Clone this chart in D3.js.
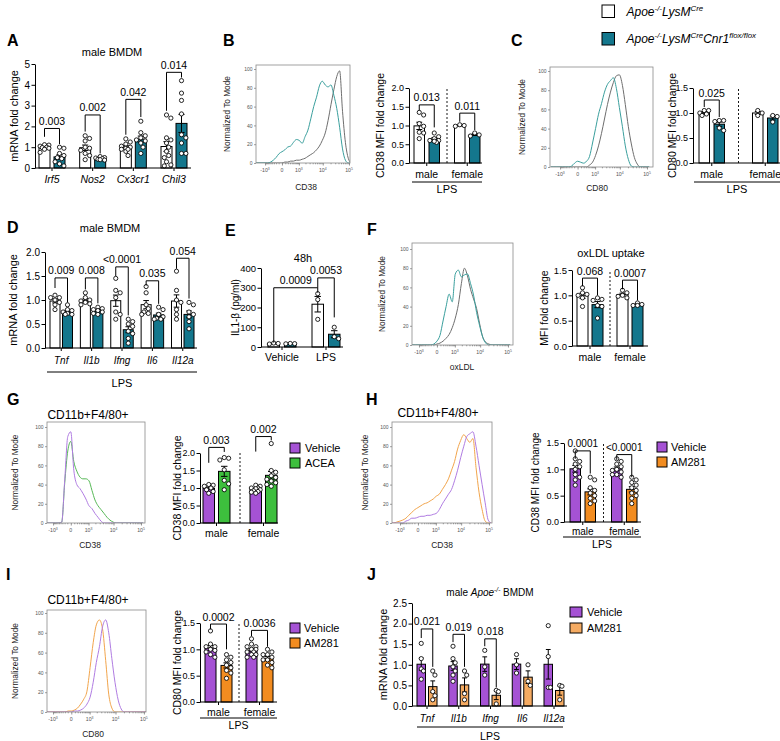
<!DOCTYPE html>
<html>
<head>
<meta charset="utf-8">
<script src="https://cdn.jsdelivr.net/npm/d3@7"></script>
<style>
html,body{margin:0;padding:0;background:#fff;}
svg{display:block;}
svg text{font-family:"Liberation Sans",Arial,Helvetica,sans-serif;}
</style>
</head>
<body>
<svg id="fig" width="780" height="741" viewBox="0 0 780 741"></svg>
<script>
// ================= colours =================
const cWT = "#ffffff", cKO = "#14778d";
const cVeh = "#a552d4", cACEA = "#3dbf3d", cAM = "#f28c20", cAMj = "#f5ab62";
const hTeal = "#3a9f9d", hGrey = "#6e6e6e", hPurple = "#b07ce2", hGreen = "#55b855", hOrange = "#f2a54c";

// ================= shared =================
const sexes = ["male", "female"];
const genesLPS = ["Tnf", "Il1b", "Ifng", "Il6", "Il12a"];

// ================= A =================
const aGenes = ["Irf5", "Nos2", "Cx3cr1", "Chil3"];
const aWT = [[1.12,1.1,1.05,1.0,0.98,0.95,0.9,0.75],[1.55,1.42,1.3,1.0,0.95,0.85,0.6,0.4,0.7],[1.4,1.25,1.15,1.05,1.0,0.95,0.9,0.8,0.6,0.9],[2.55,2.4,1.45,1.35,1.2,1.0,0.8,0.6,0.5,0.3,0.15,0.1]];
const aKO = [[1.0,0.95,0.7,0.6,0.5,0.45,0.3,0.2,0.1],[0.55,0.5,0.48,0.45,0.42,0.4,0.38],[2.25,1.7,1.55,1.45,1.35,1.3,1.2,1.0,0.7],[4.2,3.6,3.25,2.6,1.6,1.45,1.2,0.7,0.7]];
const aP = ["0.003","0.002","0.042","0.014"];
const aBr = [[1.9,1.5,1.15],[2.55,1.75,0.7],[3.3,1.6,2.45],[4.6,2.75,4.35]];
const aTicks = [0,1,2,3,4,5];

// ================= B =================
const bWT = [[1.35,1.28,1.05,0.98,0.82,0.65,0.8],[1.0,1.02,0.98]];
const bKO = [[0.8,0.7,0.65,0.6,0.6,0.55,0.58],[0.8,0.72,0.75]];
const bP = ["0.013","0.011"];
const bBr = [[1.55,1.4,0.95],[1.33,1.1,0.88]];
const ticks2 = [0,0.5,1,1.5,2];
const ticks15 = [0,0.5,1,1.5];

// ================= C =================
const cWTv = [[1.05,1.05,1.0,0.98,0.95],[1.05,1.0,0.95]];
const cKOv = [[0.85,0.85,0.83,0.7,0.65],[0.95,0.93,0.82]];
const cP = ["0.025"];
const cBr = [[1.26,1.12,0.92]];

// ================= D =================
const dWT = [[1.1,1.05,1.05,1.0,0.95,0.9,0.8],[1.15,1.05,1.0,0.98,0.95,0.92,0.9],[1.45,1.2,1.15,1.05,0.75,0.6,0.7],[1.28,1.15,0.9,0.82,0.75,0.72,0.7],[1.6,1.2,1.0,0.95,0.8,0.7,0.6]];
const dKO = [[0.9,0.8,0.78,0.75,0.72,0.7,0.7],[0.85,0.82,0.8,0.78,0.75,0.72,0.7],[0.6,0.55,0.5,0.45,0.35,0.3,0.2,0.1],[0.85,0.8,0.7,0.65,0.62,0.6,0.6],[0.95,0.9,0.75,0.7,0.65,0.55,0.4]];
const dP = ["0.009","0.008","<0.0001","0.035","0.054"];
const dBr = [[1.46,1.25,0.95],[1.46,1.22,0.93],[1.69,1.5,0.68],[1.4,1.3,0.92],[1.87,1.65,1.03]];

// ================= E =================
const eGroups = ["Vehicle","LPS"];
const eWT = [[20,18,15],[270,240,140]];
const eKO = [[18,17,16],[100,52,42]];
const eTicks = [0,100,200,300,400];

// ================= F =================
const fWT = [[1.15,1.05,1.02,1.0,0.95,0.78],[1.1,1.05,1.0,0.98,0.95]];
const fKO = [[0.95,0.92,0.9,0.8,0.78,0.55],[0.85,0.82,0.8,0.8]];
const fP = ["0.068","0.0007"];
const fBr = [[1.34,1.18,1.0],[1.3,1.12,0.9]];

// ================= G =================
const gVeh = [[1.1,1.08,1.05,1.0,0.95,0.9,0.85],[1.08,1.05,1.0,1.0,0.98,0.95,0.92,0.9,0.88,0.85]];
const gACEA = [[1.87,1.85,1.8,1.52,1.22,1.12,0.95],[2.27,1.5,1.45,1.35,1.3,1.25,1.2,1.15,1.1,1.05]];
const gP = ["0.003","0.002"];
const gBr = [[2.16,1.72,2.03],[2.47,2.04,2.36]];

// ================= H =================
const hVeh = [[1.35,1.2,1.15,1.1,1.05,1.0,0.9,0.85,0.8,0.7],[1.2,1.15,1.1,1.05,1.0,0.98,0.95,0.9,0.85,0.9]];
const hAM = [[0.85,0.8,0.65,0.6,0.55,0.5,0.45,0.4,0.35],[0.85,0.8,0.75,0.7,0.65,0.6,0.55,0.5,0.45,0.35]];
const hP = ["0.0001","<0.0001"];
const hBr = [[1.35,1.2,0.92],[1.28,1.18,0.85]];

// ================= I =================
const iVeh = [[1.35,1.1,1.05,1.05,1.0,0.98,0.95,0.9,0.85],[1.2,1.1,1.05,1.05,1.0,1.0,0.95,0.95,0.9,0.9,0.85,0.85]];
const iAM = [[0.9,0.85,0.8,0.75,0.7,0.65,0.6,0.55,0.45],[1.0,0.95,0.9,0.9,0.85,0.8,0.8,0.75,0.7,0.65]];
const iP = ["0.0002","0.0036"];
const iBr = [[1.48,1.38,1.0],[1.36,1.25,1.05]];

// ================= J =================
const jVeh = [[1.52,1.15,0.9,0.85,0.65],[1.45,1.15,1.05,0.95,0.85,0.75,0.6],[1.35,0.95,0.75],[1.25,1.0,0.8],[1.95,1.2,0.45,0.45]];
const jAM = [[0.85,0.75,0.35,0.25,0.15],[0.85,0.75,0.3,0.15],[0.38,0.35,0.05],[1.0,0.6,0.5],[0.5,0.48,0.15]];
const jP = ["0.021","0.019","0.018"];
const jBr = [[1.87,1.65,0.95],[1.74,1.55,0.95],[1.63,1.45,0.45]];
const ticks25 = [0,0.5,1,1.5,2,2.5];

// ================= flow histograms (counts, % of mode, per fluorescence bin) =================
const histBins = [-2500,-1900,-1400,-1000,-750,-500,-335,-195,-85,0,85,195,335,515,750,1050,1430,1920,2550,3350,4400,5700,7400,9600,12500,16000,20700,26700,34400,44200,56900,73100,94000,120000];
const histXTicks = [-1000,0,1000,10000,100000];
const histYTicks = [0,20,40,60,80,100];
const bHistTeal = [0,0,0,0,0,1,3,6,10,12,14,17,18,22,25,24,21,28,35,47,60,70,82,87,83,81,83,72,58,38,15,3,0,0];
const bHistGrey = [0,0,0,0,0,0,0,0,0,0,1,1,2,2,3,3,4,5,7,9,11,14,18,24,32,45,62,78,92,98,55,22,5,0];
const cHistTeal = [0,0,0,0,0,0,0,1,4,6,5,4,6,11,25,40,55,66,78,86,90,93,82,62,42,22,8,1,0,0,0,0,0,0];
const cHistGrey = [0,0,0,0,0,0,0,0,0,0,0,0,0,2,5,12,22,35,50,65,78,88,95,96,85,65,42,24,10,3,0,0,0,0];
const fHistTeal = [0,0,0,0,0,0,0,0,1,4,10,25,40,53,45,74,78,71,73,74,64,52,34,20,8,2,0,0,0,0,0,0,0,0];
const fHistGrey = [0,0,0,0,0,0,0,0,0,1,2,4,7,11,18,28,42,64,80,72,58,48,38,22,8,3,1,0,0,0,0,0,0,0];
const gHistVeh = [0,0,0,0,0,0,1,45,90,95,55,40,36,31,25,18,15,10,6,2,0,0,0,0,0,0,0,0,0,0,0,0,0,0];
const gHistACEA = [0,0,0,0,0,0,1,42,75,85,64,54,48,46,46,44,34,24,18,14,10,6,3,1,0,0,0,0,0,0,0,0,0,0];
const hHistAM = [0,0,1,2,3,5,8,11,14,16,18,20,21,23,25,28,30,35,40,46,55,64,77,86,92,88,84,88,58,32,14,2,0,0];
const hHistVeh = [0,0,0,0,0,2,3,5,5,6,7,7,8,8,9,10,14,20,25,30,35,44,55,68,80,90,93,95,80,60,40,21,3,0];
const iHistAM = [0,0,0,0,0,0,0,0,1,1,2,4,8,13,21,45,70,88,93,84,52,18,4,0,0,0,0,0,0,0,0,0,0,0];
const iHistVeh = [0,0,0,0,0,0,0,0,0,0,1,1,2,4,8,15,30,50,66,86,93,80,54,30,12,3,0,0,0,0,0,0,0,0];

// ================= helpers =================
const svg = d3.select("#fig");

function txt(g, x, y, s, o = {}) {
  const t = g.append("text").attr("x", x).attr("y", y).text(s)
    .attr("font-size", o.fs || 10).attr("text-anchor", o.anchor || "middle").attr("fill", o.fill || "#000");
  if (o.italic) t.attr("font-style", "italic");
  if (o.bold) t.attr("font-weight", "bold");
  if (o.rotate) t.attr("transform", `rotate(-90,${x},${y})`);
  return t;
}
function rich(g, x, y, parts, o = {}) {
  const fs = o.fs || 10;
  const t = g.append("text").attr("x", x).attr("y", y).attr("font-size", fs)
    .attr("text-anchor", o.anchor || "start").attr("fill", o.fill || "#000");
  let prevSup = false;
  parts.forEach(p => {
    const ts = t.append("tspan").text(p.t);
    if (p.it) ts.attr("font-style", "italic");
    if (p.sup) {
      ts.attr("font-size", fs * 0.66);
      if (!prevSup) ts.attr("dy", -fs * 0.42);
    } else if (prevSup) ts.attr("dy", fs * 0.42);
    prevSup = !!p.sup;
  });
  return t;
}
function legend(x, y, items, o) {
  const g = svg.append("g");
  items.forEach((it, i) => {
    const yy = y + i * o.dy;
    g.append("rect").attr("x", x).attr("y", yy).attr("width", o.w || o.sq).attr("height", o.sq)
      .attr("fill", it.color).attr("stroke", "#000").attr("stroke-width", 1);
    const ty = yy + o.sq / 2 + o.fs * 0.36;
    if (it.parts) rich(g, x + (o.w || o.sq) + o.tx, ty, it.parts, { fs: o.fs });
    else txt(g, x + (o.w || o.sq) + o.tx, ty, it.label, { fs: o.fs, anchor: "start" });
  });
}
function letter(x, y, s) { txt(svg, x, y, s, { fs: 16, bold: true, anchor: "start" }); }

function swarm(vals, y, cx, r, half) {
  const d = 2 * r + 0.2;
  const placed = [];
  const out = new Array(vals.length);
  const idx = vals.map((v, i) => i).sort((a, b) => vals[b] - vals[a]);
  const cands = [0];
  for (let k = 1; k <= 8; k++) cands.push(k * d * 0.5, -k * d * 0.5);
  idx.forEach(i => {
    const py = y(vals[i]);
    let best = 0, bestScore = -1;
    for (const c of cands) {
      if (Math.abs(c) > half) continue;
      let minD = Infinity;
      placed.forEach(q => { const dd = Math.hypot(c - q.dx, py - q.py); if (dd < minD) minD = dd; });
      if (minD >= d) { best = c; bestScore = Infinity; break; }
      if (minD > bestScore) { bestScore = minD; best = c; }
    }
    placed.push({ dx: best, py });
    out[i] = { x: cx + best, y: py };
  });
  return out;
}

function barPanel(o) {
  const g = svg.append("g");
  const y = d3.scaleLinear().domain([0, o.max]).range([o.yBase, o.yTop]);
  const n = o.groups.length, bw = 2 * o.barW + o.gap;
  const step = (o.barEnd - o.barStart - bw) / (n - 1);
  const xg = d3.scaleBand().domain(o.groups).range([o.barStart, o.barEnd]).paddingInner(1 - bw / step).paddingOuter(0);
  const xs = d3.scaleBand().domain(o.series.map(s => s.name)).range([0, bw]).paddingInner(o.gap / (o.barW + o.gap));
  const bx = (gi, si) => xg(o.groups[gi]) + xs(o.series[si].name);
  const cx = (gi, si) => bx(gi, si) + xs.bandwidth() / 2;

  if (o.divider) {
    const xm = (xg(o.groups[0]) + bw + xg(o.groups[1])) / 2;
    g.append("line").attr("x1", xm).attr("x2", xm).attr("y1", o.yBase).attr("y2", o.yTop)
      .attr("stroke", "#000").attr("stroke-width", 0.9).attr("stroke-dasharray", "2,2");
  }
  o.series.forEach((s, si) => {
    s.values.forEach((vals, gi) => {
      const m = d3.mean(vals);
      g.append("rect").attr("x", bx(gi, si)).attr("y", y(m)).attr("width", xs.bandwidth())
        .attr("height", y(0) - y(m)).attr("fill", s.fill).attr("stroke", "#000").attr("stroke-width", 1);
    });
  });
  o.series.forEach((s, si) => {
    s.values.forEach((vals, gi) => {
      const m = d3.mean(vals), sem = d3.deviation(vals) / Math.sqrt(vals.length);
      const c = cx(gi, si), cw = xs.bandwidth() * 0.28;
      const p = `M${c},${y(m - sem)}V${y(m + sem)}M${c - cw},${y(m + sem)}H${c + cw}M${c - cw},${y(m - sem)}H${c + cw}`;
      g.append("path").attr("d", p).attr("fill", "none").attr("stroke", "#000").attr("stroke-width", 1);
    });
  });
  const r = o.r || 2.1;
  o.series.forEach((s, si) => {
    s.values.forEach((vals, gi) => {
      const pts = swarm(vals, y, cx(gi, si), r, xs.bandwidth() / 2);
      g.selectAll(null).data(pts).enter().append("circle")
        .attr("cx", d => d.x).attr("cy", d => d.y).attr("r", r)
        .attr("fill", "#fff").attr("stroke", "#000").attr("stroke-width", 0.85);
    });
  });
  const ya = d3.axisLeft(y).tickValues(o.ticks).tickFormat(o.fmt).tickSize(3.5).tickSizeOuter(0).tickPadding(1.5);
  g.append("g").attr("transform", `translate(${o.x0},0)`).call(ya)
    .call(s => { s.select(".domain").attr("stroke-width", 1); s.selectAll("line").attr("stroke-width", 1);
      s.selectAll("text").attr("font-size", o.tickFs || 10); });
  g.append("line").attr("x1", o.x0).attr("x2", o.x1).attr("y1", o.yBase).attr("y2", o.yBase)
    .attr("stroke", "#000").attr("stroke-width", 1);
  const xa = d3.axisBottom(xg).tickSize(3).tickFormat("");
  g.append("g").attr("transform", `translate(0,${o.yBase})`).call(xa)
    .call(s => { s.select(".domain").remove(); s.selectAll("line").attr("stroke-width", 1); });
  o.groups.forEach(gr => {
    txt(g, xg(gr) + bw / 2, o.yBase + o.labelDy, gr, { fs: o.labFs || 10.5, italic: o.italic });
  });
  if (o.under) {
    g.append("line").attr("x1", o.under.x0).attr("x2", o.under.x1)
      .attr("y1", o.yBase + o.under.dy).attr("y2", o.yBase + o.under.dy).attr("stroke", "#000").attr("stroke-width", 1);
    txt(g, (o.under.x0 + o.under.x1) / 2, o.yBase + o.under.tdy, o.under.text, { fs: o.under.fs || 11 });
  }
  (o.brackets || []).forEach(b => {
    const xa1 = cx(b.a[0], b.a[1]), xb1 = cx(b.b[0], b.b[1]);
    g.append("path").attr("d", `M${xa1},${y(b.ya)}V${y(b.y)}H${xb1}V${y(b.yb)}`)
      .attr("fill", "none").attr("stroke", "#000").attr("stroke-width", 1);
    txt(g, (xa1 + xb1) / 2, y(b.y) - 3.5, b.label, { fs: o.pFs || 10.5 });
  });
  const yc = (o.yBase + o.yTop) / 2;
  const ylf = o.ylFs || 10.5;
  txt(g, o.ylx + ylf * 0.36, yc, o.ylabel, { fs: ylf, rotate: true });
}
function pairBrackets(P, B) {
  return P.map((p, i) => ({ a: [i, 0], b: [i, 1], y: B[i][0], ya: B[i][1], yb: B[i][2], label: p }));
}

let clipN = 0;
function histPanel(o) {
  const g = svg.append("g");
  const x = d3.scaleSymlog().constant(300).domain([histBins[0], histBins[histBins.length - 1]]).range([o.sL, o.sR]);
  const y = d3.scaleLinear().domain([0, 100]).range([o.boxB, o.y100]);
  const id = "hclip" + (clipN++);
  svg.append("clipPath").attr("id", id).append("rect")
    .attr("x", o.boxL).attr("y", o.boxT).attr("width", o.boxR - o.boxL).attr("height", o.boxB - o.boxT);
  const line = d3.line().x((d, i) => x(histBins[i])).y(d => y(d)).curve(d3.curveMonotoneX);
  o.curves.forEach(c => {
    g.append("path").attr("d", line(c.vals)).attr("fill", "none").attr("stroke", c.color)
      .attr("stroke-width", 1).attr("clip-path", `url(#${id})`);
  });
  g.append("rect").attr("x", o.boxL).attr("y", o.boxT).attr("width", o.boxR - o.boxL).attr("height", o.boxB - o.boxT)
    .attr("fill", "none").attr("stroke", "#8a8a8a").attr("stroke-width", 0.8);
  const ya = d3.axisLeft(y).tickValues(histYTicks).tickSize(2).tickSizeOuter(0).tickPadding(1.5);
  g.append("g").attr("transform", `translate(${o.boxL},0)`).call(ya)
    .call(s => { s.select(".domain").remove(); s.selectAll("line").attr("stroke", "#777").attr("stroke-width", 0.7);
      s.selectAll("text").attr("font-size", 5).attr("fill", "#555"); });
  const minor = [];
  [100, 1000, 10000].forEach(dec => { for (let k = 2; k <= 9; k++) minor.push(k * dec); });
  [100, 200, 300, 400, 500, 600, 700, 800, 900].forEach(v => minor.push(-v));
  minor.push(100);
  const xm = d3.axisBottom(x).tickValues(minor).tickSize(1.3).tickFormat("");
  g.append("g").attr("transform", `translate(0,${o.boxB})`).call(xm)
    .call(s => { s.select(".domain").remove(); s.selectAll("line").attr("stroke", "#666").attr("stroke-width", 0.6); });
  const xa = d3.axisBottom(x).tickValues(histXTicks).tickSize(2.5).tickFormat("");
  g.append("g").attr("transform", `translate(0,${o.boxB})`).call(xa)
    .call(s => { s.select(".domain").remove(); s.selectAll("line").attr("stroke", "#666").attr("stroke-width", 0.7); });
  histXTicks.forEach(v => {
    const parts = v === 0 ? [{ t: "0" }] : [{ t: (v < 0 ? "-" : "") + "10" }, { t: String(Math.round(Math.log10(Math.abs(v)))), sup: 1 }];
    rich(g, x(v), o.boxB + 9, parts, { fs: 5.2, anchor: "middle", fill: "#555" });
  });
  txt(g, o.xlab[1], o.xlab[2], o.xlab[0], { fs: 8.5, fill: "#222" });
  const yc = (o.boxT + o.boxB) / 2;
  txt(g, o.ylx + 3, yc, "Normalized To Mode", { fs: 8.3, rotate: true, fill: "#222" });
}

// ================= top legend =================
legend(602, 5, [
  { color: cWT, parts: [{ t: "Apoe", it: 1 }, { t: "-/-", it: 1, sup: 1 }, { t: "LysM", it: 1 }, { t: "Cre", it: 1, sup: 1 }] },
  { color: cKO, parts: [{ t: "Apoe", it: 1 }, { t: "-/-", it: 1, sup: 1 }, { t: "LysM", it: 1 }, { t: "Cre", it: 1, sup: 1 }, { t: "Cnr1", it: 1 }, { t: "flox/flox", it: 1, sup: 1 }] }
], { sq: 12.5, dy: 27.5, fs: 12, tx: 12 });

// ================= letters =================
letter(7, 46, "A"); letter(223, 46, "B"); letter(511, 46, "C");
letter(7, 233, "D"); letter(225, 236, "E"); letter(367, 235, "F");
letter(7, 405, "G"); letter(366, 405, "H"); letter(6, 580, "I"); letter(367, 580, "J");

// ================= Panel A =================
txt(svg, 112, 56, "male BMDM", { fs: 11 });
barPanel({
  x0: 35, x1: 191, yBase: 168, yTop: 64, max: 5, ticks: aTicks, fmt: d3.format("d"),
  groups: aGenes, barStart: 39, barEnd: 187, barW: 11, gap: 4,
  series: [{ name: "wt", fill: cWT, values: aWT }, { name: "ko", fill: cKO, values: aKO }],
  labelDy: 15, italic: true, labFs: 10.5, ylabel: "mRNA fold change", ylx: 14, ylFs: 11,
  brackets: pairBrackets(aP, aBr), pFs: 10.5
});

// ================= Panel B =================
histPanel({ boxL: 256, boxR: 350, boxT: 65, boxB: 163, sL: 256.2, sR: 351.1, y100: 69, ylx: 227,
  xlab: ["CD38", 306, 190], curves: [{ vals: bHistGrey, color: hGrey }, { vals: bHistTeal, color: hTeal }] });
barPanel({
  x0: 409, x1: 482, yBase: 163, yTop: 88, max: 2, ticks: ticks2, fmt: d3.format(".1f"),
  groups: sexes, barStart: 414, barEnd: 480, barW: 10.5, gap: 4.5,
  series: [{ name: "wt", fill: cWT, values: bWT }, { name: "ko", fill: cKO, values: bKO }],
  labelDy: 15, labFs: 10.5, tickFs: 9, divider: true, under: { x0: 412, x1: 482, dy: 19, tdy: 30, text: "LPS" },
  ylabel: "CD38 MFI fold change", ylx: 380, ylFs: 10.5, brackets: pairBrackets(bP, bBr)
});

// ================= Panel C =================
histPanel({ boxL: 550, boxR: 653, boxT: 67, boxB: 167, sL: 550.9, sR: 649.2, y100: 71, ylx: 522,
  xlab: ["CD80", 597, 191], curves: [{ vals: cHistGrey, color: hGrey }, { vals: cHistTeal, color: hTeal }] });
barPanel({
  x0: 693, x1: 780, yBase: 163, yTop: 88, max: 1.5, ticks: ticks15, fmt: d3.format(".1f"),
  groups: sexes, barStart: 699, barEnd: 778, barW: 10.5, gap: 4.5,
  series: [{ name: "wt", fill: cWT, values: cWTv }, { name: "ko", fill: cKO, values: cKOv }],
  labelDy: 14.5, labFs: 10.5, tickFs: 9, divider: true, under: { x0: 694, x1: 780, dy: 19, tdy: 30, text: "LPS" },
  ylabel: "CD80 MFI fold change", ylx: 672, ylFs: 10.5, brackets: pairBrackets(cP, cBr)
});

// ================= Panel D =================
txt(svg, 110, 232, "male BMDM", { fs: 11 });
barPanel({
  x0: 45, x1: 197, yBase: 348, yTop: 252, max: 2, ticks: ticks2, fmt: d3.format(".1f"),
  groups: genesLPS, barStart: 50, barEnd: 194, barW: 10, gap: 2.5,
  series: [{ name: "wt", fill: cWT, values: dWT }, { name: "ko", fill: cKO, values: dKO }],
  labelDy: 16, italic: true, labFs: 10, under: { x0: 47, x1: 197, dy: 24, tdy: 39, text: "LPS" },
  ylabel: "mRNA fold change", ylx: 13, ylFs: 11, brackets: pairBrackets(dP, dBr), pFs: 10.5
});

// ================= Panel E =================
txt(svg, 303, 262, "48h", { fs: 11 });
barPanel({
  x0: 261, x1: 343, yBase: 347, yTop: 268, max: 400, ticks: eTicks, fmt: d3.format("d"),
  groups: eGroups, barStart: 268, barEnd: 340, barW: 11.5, gap: 5,
  series: [{ name: "wt", fill: cWT, values: eWT }, { name: "ko", fill: cKO, values: eKO }],
  labelDy: 14, labFs: 10.5, tickFs: 9.5, ylabel: "IL1-\u03B2 (pg/ml)", ylx: 235, ylFs: 10,
  brackets: [
    { a: [0, 0], b: [1, 0], y: 300, ya: 22, yb: 275, label: "0.0009" },
    { a: [1, 0], b: [1, 1], y: 350, ya: 300, yb: 150, label: "0.0053" }
  ], pFs: 10.5
});

// ================= Panel F =================
histPanel({ boxL: 412, boxR: 513, boxT: 243, boxB: 345, sL: 409.6, sR: 510.2, y100: 249, ylx: 382,
  xlab: ["oxLDL", 462, 370], curves: [{ vals: fHistGrey, color: hGrey }, { vals: fHistTeal, color: hTeal }] });
txt(svg, 611, 257, "oxLDL uptake", { fs: 11 });
barPanel({
  x0: 572, x1: 648, yBase: 346, yTop: 270, max: 1.5, ticks: ticks15, fmt: d3.format(".1f"),
  groups: sexes, barStart: 577, barEnd: 643, barW: 11, gap: 4,
  series: [{ name: "wt", fill: cWT, values: fWT }, { name: "ko", fill: cKO, values: fKO }],
  labelDy: 15, labFs: 10.5, tickFs: 9.5, divider: true,
  ylabel: "MFI fold change", ylx: 544, ylFs: 10.5, brackets: pairBrackets(fP, fBr)
});

// ================= Panel G =================
txt(svg, 88, 419, "CD11b+F4/80+", { fs: 12 });
histPanel({ boxL: 47, boxR: 145, boxT: 422, boxB: 523, sL: 43.8, sR: 143.2, y100: 427, ylx: 15,
  xlab: ["CD38", 90, 548], curves: [{ vals: gHistACEA, color: hGreen }, { vals: gHistVeh, color: hPurple }] });
barPanel({
  x0: 200, x1: 278, yBase: 523, yTop: 453, max: 2, ticks: ticks2, fmt: d3.format(".1f"),
  groups: sexes, barStart: 203, barEnd: 277, barW: 11.5, gap: 4,
  series: [{ name: "veh", fill: cVeh, values: gVeh }, { name: "acea", fill: cACEA, values: gACEA }],
  labelDy: 14, labFs: 10.5, tickFs: 9, divider: true,
  ylabel: "CD38 MFI fold change", ylx: 177, ylFs: 10.5, brackets: pairBrackets(gP, gBr)
});
legend(290, 443, [{ color: cVeh, label: "Vehicle" }, { color: cACEA, label: "ACEA" }], { sq: 10, dy: 15, fs: 11, tx: 5 });

// ================= Panel H =================
txt(svg, 438, 417, "CD11b+F4/80+", { fs: 12 });
histPanel({ boxL: 392, boxR: 492, boxT: 422, boxB: 523, sL: 390.6, sR: 491.2, y100: 427, ylx: 365,
  xlab: ["CD38", 442, 548], curves: [{ vals: hHistAM, color: hOrange }, { vals: hHistVeh, color: hPurple }] });
barPanel({
  x0: 564, x1: 641, yBase: 522, yTop: 443, max: 1.5, ticks: ticks15, fmt: d3.format(".1f"),
  groups: sexes, barStart: 570, barEnd: 637, barW: 10.5, gap: 4.5,
  series: [{ name: "veh", fill: cVeh, values: hVeh }, { name: "am", fill: cAM, values: hAM }],
  labelDy: 12.5, labFs: 10, tickFs: 9, divider: true, under: { x0: 563, x1: 641, dy: 15, tdy: 26, text: "LPS", fs: 10.5 },
  ylabel: "CD38 MFI fold change", ylx: 535, ylFs: 10, brackets: pairBrackets(hP, hBr), pFs: 10
});
legend(657, 442, [{ color: cVeh, label: "Vehicle" }, { color: cAM, label: "AM281" }], { sq: 10, dy: 15, fs: 11, tx: 4 });

// ================= Panel I =================
txt(svg, 88, 604, "CD11b+F4/80+", { fs: 12 });
histPanel({ boxL: 47, boxR: 146, boxT: 610, boxB: 712, sL: 43.4, sR: 146.2, y100: 613, ylx: 15,
  xlab: ["CD80", 93, 737], curves: [{ vals: iHistAM, color: hOrange }, { vals: iHistVeh, color: hPurple }] });
barPanel({
  x0: 200, x1: 277, yBase: 702, yTop: 623, max: 1.5, ticks: ticks15, fmt: d3.format(".1f"),
  groups: sexes, barStart: 205, barEnd: 273, barW: 11, gap: 5,
  series: [{ name: "veh", fill: cVeh, values: iVeh }, { name: "am", fill: cAM, values: iAM }],
  labelDy: 13.5, labFs: 10.5, tickFs: 9, divider: true, under: { x0: 200, x1: 277, dy: 16, tdy: 27, text: "LPS", fs: 10.5 },
  ylabel: "CD80 MFI fold change", ylx: 177, ylFs: 10.5, brackets: pairBrackets(iP, iBr)
});
legend(290, 623, [{ color: cVeh, label: "Vehicle" }, { color: cAM, label: "AM281" }], { sq: 10, dy: 15, fs: 11, tx: 4 });

// ================= Panel J =================
rich(svg, 490, 596, [{ t: "male " }, { t: "Apoe", it: 1 }, { t: "-/-", it: 1, sup: 1 }, { t: " BMDM" }], { fs: 10, anchor: "middle" });
barPanel({
  x0: 412, x1: 567, yBase: 706, yTop: 603, max: 2.5, ticks: ticks25, fmt: d3.format(".1f"),
  groups: genesLPS, barStart: 417, barEnd: 564, barW: 8.5, gap: 3,
  series: [{ name: "veh", fill: cVeh, values: jVeh }, { name: "am", fill: cAMj, values: jAM }],
  labelDy: 16, italic: true, labFs: 10, under: { x0: 417, x1: 563, dy: 21, tdy: 34, text: "LPS", fs: 10.5 },
  ylabel: "mRNA fold change", ylx: 383, ylFs: 11, brackets: pairBrackets(jP, jBr), pFs: 10.5
});
legend(570, 607, [{ color: cVeh, label: "Vehicle" }, { color: cAMj, label: "AM281" }], { sq: 10, w: 12, dy: 16, fs: 11, tx: 5 });
</script>
</body>
</html>
